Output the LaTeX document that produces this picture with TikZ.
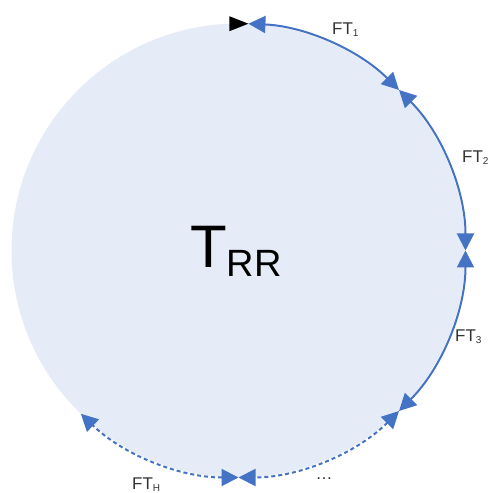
\documentclass[tikz,border=0pt]{standalone}
\usepackage{fontspec}
\setmainfont{Liberation Sans}
\usepackage{tikz}
\usetikzlibrary{arrows.meta}
\definecolor{ftblau}{HTML}{4472C4}
\definecolor{ringfill}{HTML}{E5ECF7}
\definecolor{grau}{HTML}{333333}
\newcommand{\ftlab}[1]{FT\raisebox{-2pt}{\fontsize{10}{10}\selectfont #1}}
\tikzset{
  ring/.style={fill=ringfill,draw=none},
  seg/.style={{Triangle[length=17pt,width=17pt]}-{Triangle[length=17pt,width=17pt]},ftblau,line width=2pt},
  segd/.style={seg,dash pattern=on 4pt off 3pt},
  lab/.style={font=\fontsize{17}{17}\selectfont,text=grau,inner sep=0pt},
}

\begin{document}
\begin{tikzpicture}[x=1pt,y=1pt]
  \useasboundingbox (0,0) rectangle (489,493);
  \coordinate (c) at (238.5,242.5);
  \fill[ring] (c) circle[radius=227];
  \path (c) ++(87.5:227) coordinate (p0)
        (c) ++(45:227) coordinate (p1)
        (c) ++(0:227) coordinate (p2)
        (c) ++(-45:227) coordinate (p3)
        (c) ++(-90:227) coordinate (p4)
        (c) ++(-134:227) coordinate (p5);
  % Abschnitte
  \draw[seg] (p0) arc[start angle=87.5,end angle=45,radius=227];
  \draw[seg] (p1) arc[start angle=45,end angle=0,radius=227];
  \draw[seg] (p2) arc[start angle=0,end angle=-45,radius=227];
  \draw[segd] (p3) arc[start angle=-45,end angle=-90,radius=227];
  \draw[segd] (p4) arc[start angle=-90,end angle=-134,radius=227];
  \fill[black] (p0) -- ++(-19,7.5) -- ++(0,-15) -- cycle;
  % Beschriftung
  \node[lab,anchor=west] (ft1) at (332,463) {\ftlab{1}};
  \node[lab,anchor=west] (ft2) at (462,335) {\ftlab{2}};
  \node[lab,anchor=west] (ft3) at (455,156) {\ftlab{3}};
  \node[lab,anchor=west] (fth) at (132,8) {\ftlab{H}};
  \node[lab,anchor=base] (dots) at (324,13) {\dots};
  \node[anchor=base west,inner sep=0pt] (trr) at (190,225)
    {\fontsize{60}{60}\selectfont T\raisebox{-9pt}{\fontsize{38}{38}\selectfont RR}};
\end{tikzpicture}
\end{document}
